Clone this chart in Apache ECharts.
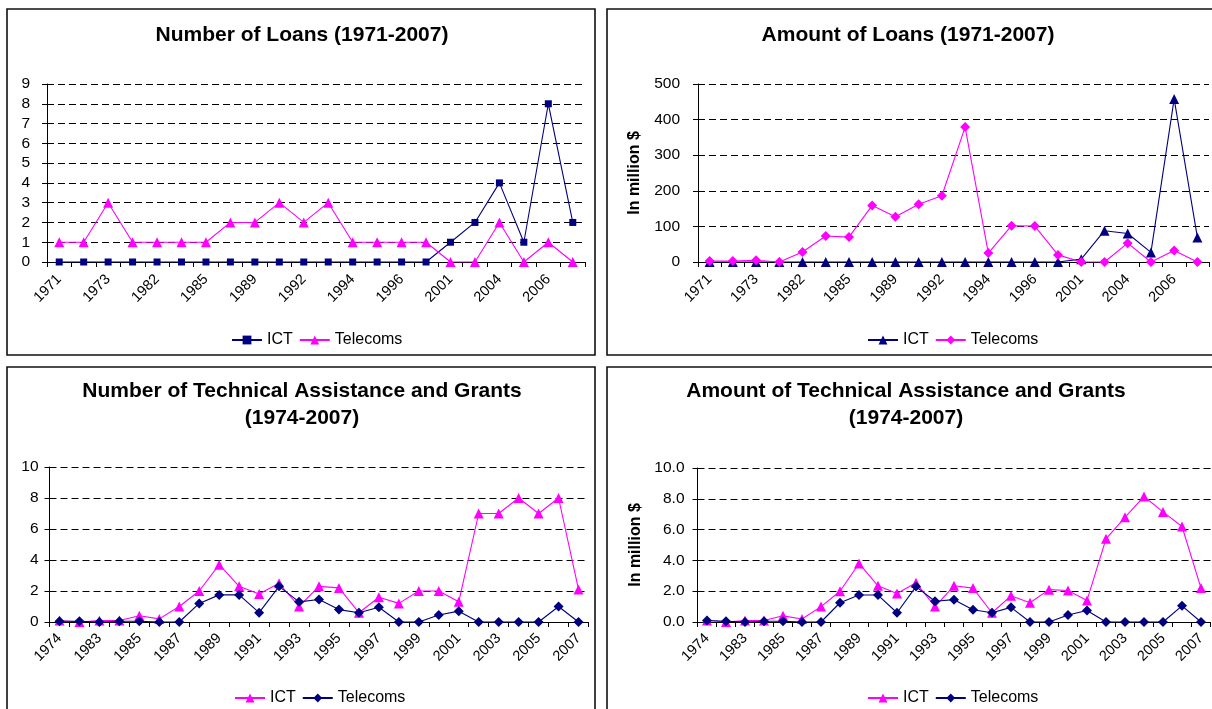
<!DOCTYPE html>
<html>
<head>
<meta charset="utf-8">
<script src="https://cdn.jsdelivr.net/npm/echarts@6/dist/echarts.min.js"></script>
<style>
html,body{margin:0;padding:0;background:#fff;}
.ch{position:absolute;left:0;top:0;width:1212px;height:709px;}
</style>
</head>
<body>
<div id="c1" class="ch"></div>
<div id="c2" class="ch"></div>
<div id="c3" class="ch"></div>
<div id="c4" class="ch"></div>
<script>
// ---- Data ----
var loanYears = ['1971','1972','1973','1979','1982','1984','1985','1987','1989','1990','1992','1993','1994','1995','1996','1998','2001','2003','2004','2005','2006','2007'];
var loanCountICT = [0,0,0,0,0,0,0,0,0,0,0,0,0,0,0,0,1,2,4,1,8,2];
var loanCountTelecoms = [1,1,3,1,1,1,1,2,2,3,2,3,1,1,1,1,0,0,2,0,1,0];
var loanAmountICT = [0,0,0,0,0,0,0,0,0,0,0,0,0,0,0,0,8,88,80,27,458,69];
var loanAmountTelecoms = [3,3,5,0,28,73,70,159,127,162,186,379,25,102,101,20,0,0,53,0,32,0];

var taYears = ['1974','1982','1983','1984','1985','1986','1987','1988','1989','1990','1991','1992','1993','1994','1995','1996','1997','1998','1999','2000','2001','2002','2003','2004','2005','2006','2007'];
var taCountICT = [0.1,0,0.1,0.1,0.4,0.2,1.0,2.0,3.7,2.3,1.8,2.5,1.0,2.3,2.2,0.6,1.6,1.2,2.0,2.0,1.3,7,7,8,7,8,2.1];
var taCountTelecoms = [0.05,0.05,0,0.05,0.05,0,0,1.2,1.75,1.75,0.6,2.3,1.3,1.45,0.8,0.6,0.95,0,0,0.45,0.7,0,0,0,0,1.0,0];
var taAmountICT = [0.1,0,0.1,0.1,0.4,0.2,1.0,2.0,3.8,2.35,1.85,2.55,1.0,2.35,2.2,0.6,1.7,1.25,2.1,2.05,1.4,5.4,6.8,8.15,7.15,6.2,2.2];
var taAmountTelecoms = [0.1,0.05,0,0.05,0.05,0,0,1.25,1.75,1.75,0.6,2.3,1.35,1.45,0.8,0.6,0.95,0,0,0.45,0.75,0,0,0,0,1.05,0];

var NAVY = '#000080', MAGENTA = '#FF00FF';
var FONT = 'Arial, "Liberation Sans", sans-serif';

function makeSeries(name, data, color, symbol, size) {
  return {
    name: name, type: 'line', data: data,
    symbol: symbol, symbolSize: size,
    lineStyle: {color: color, width: 1.1},
    itemStyle: {color: color},
    animation: false
  };
}

function build(cfg) {
  return {
    animation: false,
    textStyle: {fontFamily: FONT},
    graphic: [{
      type: 'rect', silent: true,
      shape: {x: cfg.box[0], y: cfg.box[1], width: cfg.box[2], height: cfg.box[3]},
      style: {fill: 'none', stroke: '#111', lineWidth: 1.6}
    }],
    title: {
      text: cfg.title, left: cfg.titleX, top: cfg.titleY, textAlign: 'center', padding: 0,
      textStyle: {fontFamily: FONT, fontSize: 21, fontWeight: 'bold', color: '#000', lineHeight: 27}
    },
    legend: {
      left: cfg.legendX, top: cfg.legendY, padding: 0, itemGap: 6, itemWidth: 30, itemHeight: 11,
      textStyle: {fontFamily: FONT, fontSize: 16, color: '#000'},
      data: cfg.series.map(function(s){return s.name;})
    },
    grid: {left: cfg.grid[0], top: cfg.grid[1], width: cfg.grid[2], height: cfg.grid[3]},
    xAxis: {
      type: 'category', data: cfg.cats, boundaryGap: true,
      axisLine: {lineStyle: {color: '#000', width: 1}},
      axisTick: {show: true, interval: 0, length: 5, lineStyle: {color: '#000'}},
      axisLabel: {interval: 1, rotate: 45, margin: cfg.xMargin, fontSize: 14.5, color: '#000', fontFamily: FONT},
      splitLine: {show: false}
    },
    yAxis: {
      type: 'value', min: cfg.yMin, max: cfg.yMax, interval: cfg.yInt,
      name: cfg.yName || '', nameLocation: 'middle', nameRotate: 90, nameGap: cfg.nameGap || 0,
      nameTextStyle: {fontFamily: FONT, fontSize: 16, fontWeight: 'bold', color: '#000'},
      axisLine: {show: true, lineStyle: {color: '#000', width: 1}},
      axisTick: {show: true, length: 5, lineStyle: {color: '#000'}},
      axisLabel: {margin: cfg.yMargin, fontSize: 15.5, color: '#000', fontFamily: FONT,
                  formatter: cfg.yFmt || function(v){return String(v);}},
      splitLine: {show: true, lineStyle: {color: '#000', type: [7, 4], width: 1}}
    },
    series: cfg.series
  };
}

var cfgs = [
  {
    el: 'c1', box: [7, 9, 588, 346],
    title: 'Number of Loans (1971-2007)', titleX: 302, titleY: 22,
    legendX: 231, legendY: 332,
    grid: [47, 84, 538, 178], cats: loanYears, xMargin: 15, yMargin: 17,
    yMin: 0, yMax: 9, yInt: 1,
    series: [
      makeSeries('ICT', loanCountICT, NAVY, 'rect', 7),
      makeSeries('Telecoms', loanCountTelecoms, MAGENTA, 'triangle', 10)
    ]
  },
  {
    el: 'c2', box: [607, 9, 620, 346],
    title: 'Amount of Loans (1971-2007)', titleX: 908, titleY: 22,
    legendX: 867, legendY: 332,
    grid: [698, 84, 511, 178], cats: loanYears, xMargin: 15, yMargin: 18,
    yMin: 0, yMax: 500, yInt: 100, yName: 'In million $', nameGap: 55,
    series: [
      makeSeries('ICT', loanAmountICT, NAVY, 'triangle', 10),
      makeSeries('Telecoms', loanAmountTelecoms, MAGENTA, 'diamond', 10)
    ]
  },
  {
    el: 'c3', box: [7, 367, 588, 400],
    title: 'Number of Technical Assistance and Grants\n(1974-2007)', titleX: 302, titleY: 378,
    legendX: 234, legendY: 690,
    grid: [49.5, 467, 539, 155], cats: taYears, xMargin: 14, yMargin: 11,
    yMin: 0, yMax: 10, yInt: 2,
    series: [
      makeSeries('ICT', taCountICT, MAGENTA, 'triangle', 10),
      makeSeries('Telecoms', taCountTelecoms, NAVY, 'diamond', 10)
    ]
  },
  {
    el: 'c4', box: [607, 367, 620, 400],
    title: 'Amount of Technical Assistance and Grants\n(1974-2007)', titleX: 906, titleY: 378,
    legendX: 867, legendY: 690,
    grid: [697.5, 468, 513, 154], cats: taYears, xMargin: 14, yMargin: 13,
    yMin: 0, yMax: 10, yInt: 2, yName: 'In million $', nameGap: 54,
    yFmt: function(v){return v.toFixed(1);},
    series: [
      makeSeries('ICT', taAmountICT, MAGENTA, 'triangle', 10),
      makeSeries('Telecoms', taAmountTelecoms, NAVY, 'diamond', 10)
    ]
  }
];

cfgs.forEach(function(c){
  var chart = echarts.init(document.getElementById(c.el), null, {renderer: 'canvas', width: 1212, height: 709});
  chart.setOption(build(c));
});
</script>
</body>
</html>
